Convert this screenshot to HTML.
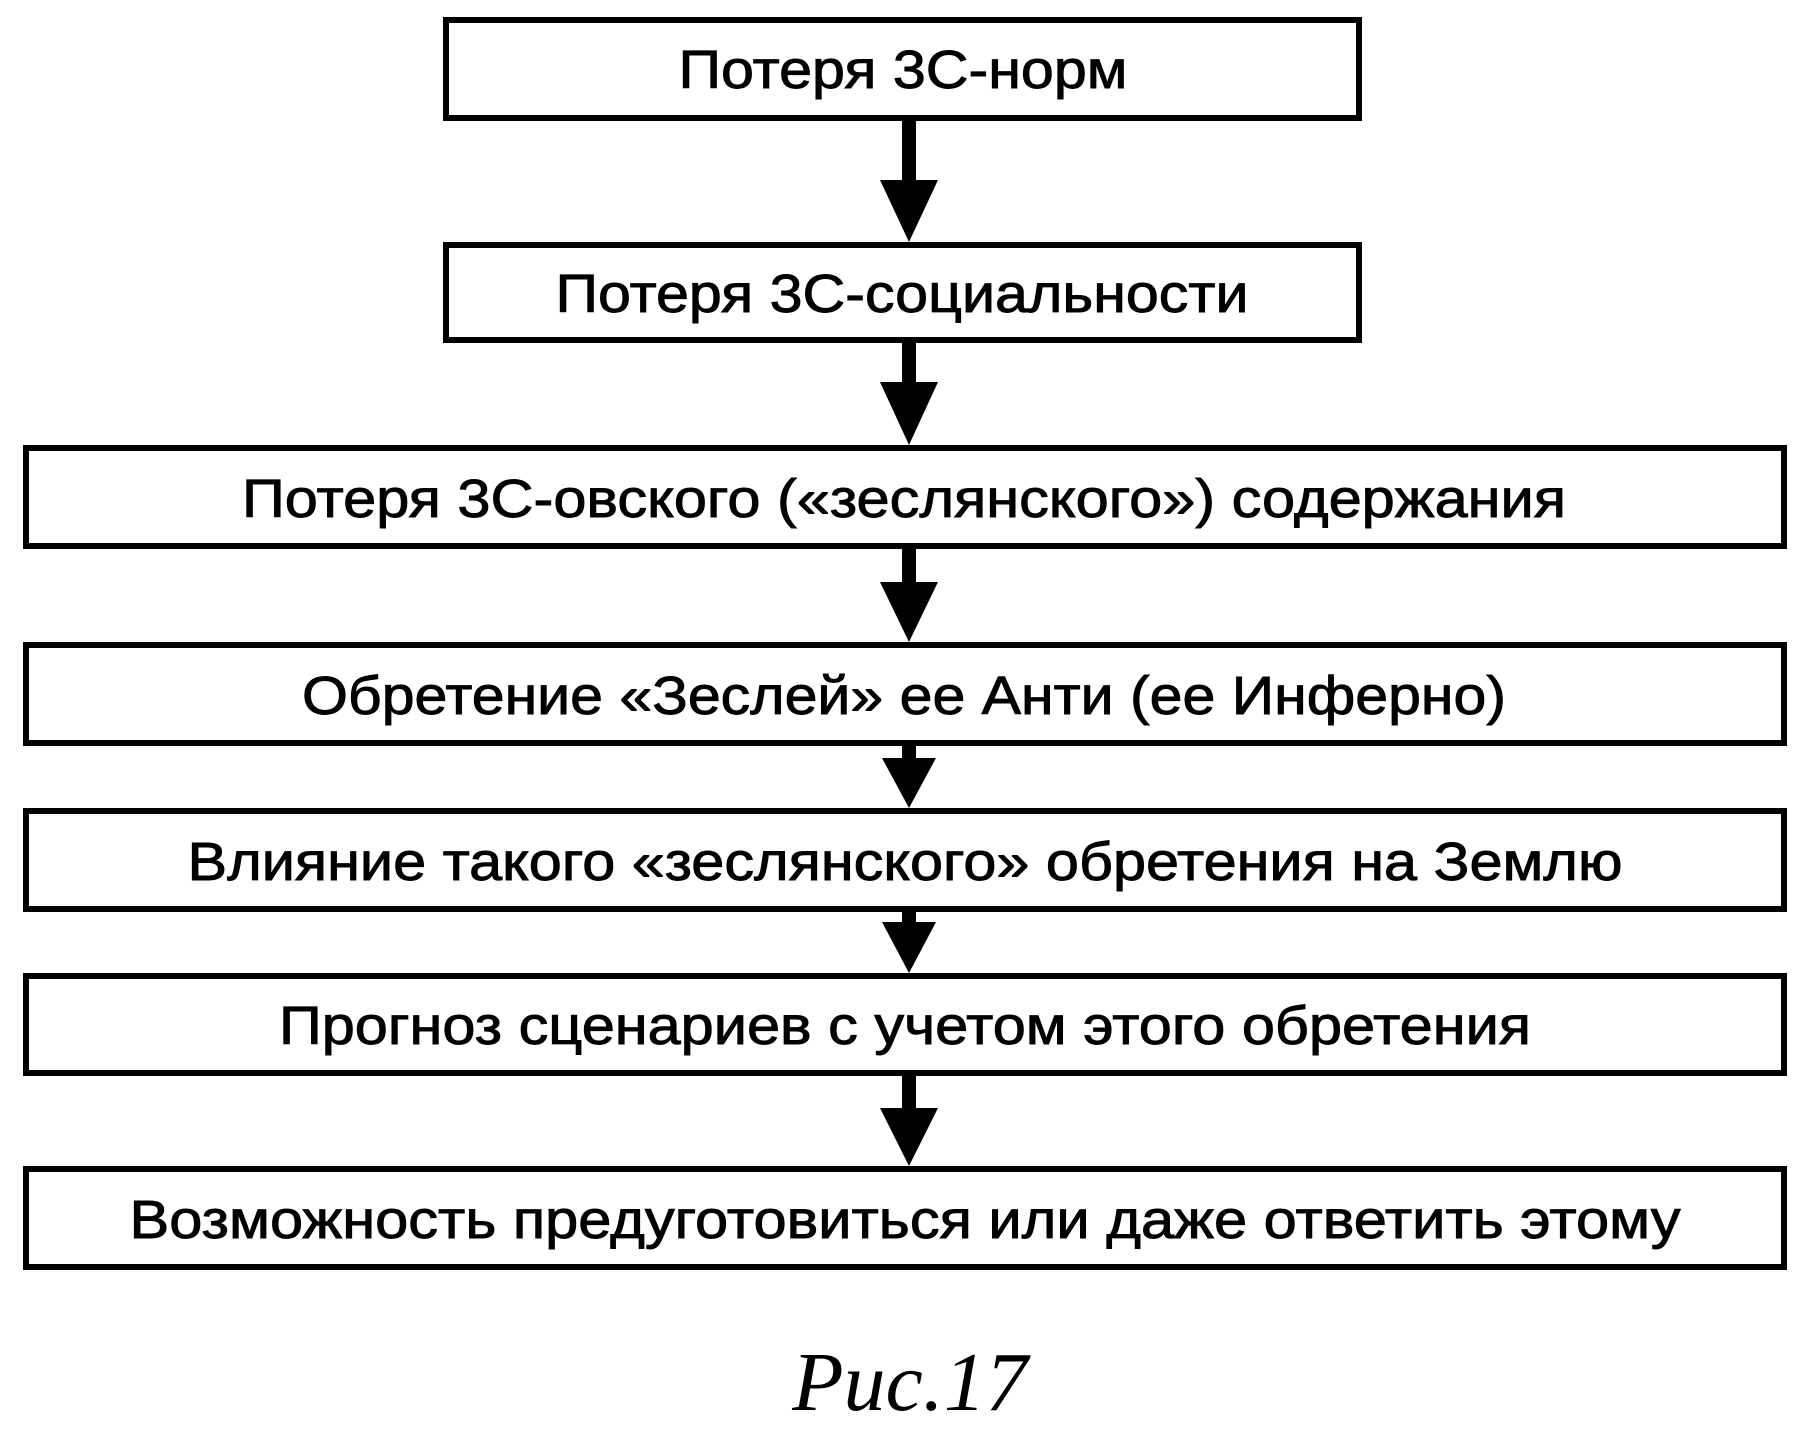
<!DOCTYPE html>
<html><head><meta charset="utf-8"><style>html,body{margin:0;padding:0;background:#fff}svg{display:block}</style></head>
<body>
<svg width="1805" height="1439" viewBox="0 0 1805 1439" xmlns="http://www.w3.org/2000/svg">
<g fill="none" stroke="#000" stroke-width="6">
<rect x="446" y="20" width="913" height="98"/>
<rect x="446" y="245" width="913" height="95"/>
<rect x="26" y="448" width="1758" height="98"/>
<rect x="26" y="645" width="1758" height="98"/>
<rect x="26" y="811" width="1758" height="98"/>
<rect x="26" y="976" width="1758" height="97"/>
<rect x="26" y="1169" width="1758" height="98"/>
</g>
<g fill="#000">
<rect x="902" y="121" width="14" height="62"/><polygon points="880,180 938,180 909,242"/>
<rect x="902" y="343" width="14" height="42"/><polygon points="880,382 938,382 909,445"/>
<rect x="902" y="549" width="14" height="35"/><polygon points="880,582 938,582 909,642"/>
<rect x="902" y="746" width="14" height="14"/><polygon points="882,758 936,758 909,808"/>
<rect x="902" y="912" width="14" height="12"/><polygon points="882,922 936,922 909,973"/>
<rect x="902" y="1076" width="14" height="36"/><polygon points="880,1108 938,1108 909,1166"/>
</g>
<g font-family="Liberation Sans, sans-serif" font-size="54" fill="#000" stroke="#000" stroke-width="0.9" text-anchor="middle">
<text x="903" y="88" textLength="449" lengthAdjust="spacingAndGlyphs">Потеря 3С-норм</text>
<text x="902" y="312" textLength="693" lengthAdjust="spacingAndGlyphs">Потеря 3С-социальности</text>
<text x="904" y="517" textLength="1324" lengthAdjust="spacingAndGlyphs">Потеря 3С-овского («зеслянского») содержания</text>
<text x="904" y="714" textLength="1204" lengthAdjust="spacingAndGlyphs">Обретение «Зеслей» ее Анти (ее Инферно)</text>
<text x="905" y="880" textLength="1435" lengthAdjust="spacingAndGlyphs">Влияние такого «зеслянского» обретения на Землю</text>
<text x="905" y="1044" textLength="1252" lengthAdjust="spacingAndGlyphs">Прогноз сценариев с учетом этого обретения</text>
<text x="905" y="1238" textLength="1551" lengthAdjust="spacingAndGlyphs">Возможность предуготовиться или даже ответить этому</text>
</g>
<text x="910" y="1410" font-family="Liberation Serif, serif" font-style="italic" font-size="84" text-anchor="middle" fill="#000">Рис.17</text>
</svg>
</body></html>
